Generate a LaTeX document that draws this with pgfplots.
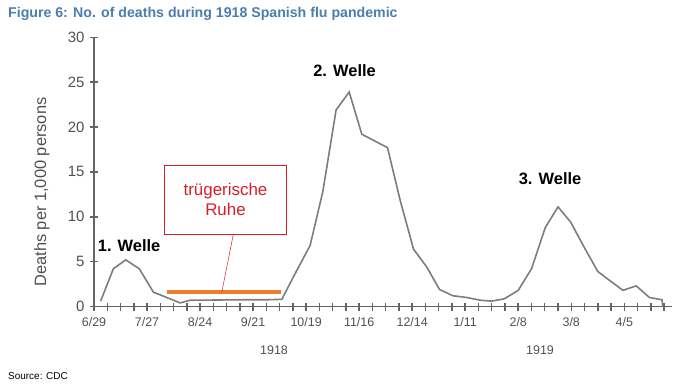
\documentclass[border=0pt]{standalone}
\usepackage{pgfplots}
\pgfplotsset{compat=1.18}
\usepackage{fontspec}
\setmainfont{Liberation Sans}
\definecolor{titleblue}{RGB}{74,126,173}
\definecolor{linegray}{RGB}{125,125,125}
\definecolor{axgray}{RGB}{100,100,100}
\definecolor{labgray}{RGB}{80,80,80}
\definecolor{orng}{RGB}{237,125,49}
\definecolor{rd}{RGB}{218,30,40}
\begin{document}
\begin{tikzpicture}[x=1bp,y=1bp]
\useasboundingbox (0,0) rectangle (685,391);
% title and source
\node[anchor=west,text=titleblue,font=\bfseries\fontsize{14.2}{16}\selectfont,inner sep=0] at (8,377) {Figure 6: No. of deaths during 1918 Spanish flu pandemic};
\node[anchor=west,font=\fontsize{10}{12}\selectfont,inner sep=0] at (8,15) {Source: CDC};
\node[text=labgray,font=\fontsize{12.5}{14}\selectfont,inner sep=0] at (274,41) {1918};
\node[text=labgray,font=\fontsize{12.5}{14}\selectfont,inner sep=0] at (540,41) {1919};
\begin{axis}[
  at={(94bp,84.5bp)}, anchor=south west,
  scale only axis, width=578bp, height=269.2bp,
  xmin=0, xmax=43.6, ymin=0, ymax=30,
  axis lines=left,
  axis line style={draw=axgray, line width=1.2bp, -},
  xtick={0,...,43},
  xticklabels={6/29,,,,7/27,,,,8/24,,,,9/21,,,,10/19,,,,11/16,,,,12/14,,,,1/11,,,,2/8,,,,3/8,,,,4/5,,,,},
  ytick={0,5,...,30},
  tick align=center,
  major tick length=8bp,
  tick style={draw=axgray, line width=1.5bp},
  /pgf/number format/assume math mode=true,
  x tick label style={text=labgray, font=\fontsize{12.5}{14}\selectfont, yshift=-3bp},
  y tick label style={text=labgray, font=\fontsize{15}{17}\selectfont, xshift=-2bp},
  ylabel={Deaths per 1,000 persons},
  ylabel style={text=labgray, font=\fontsize{16.5}{18}\selectfont, at={(axis description cs:-0.09,0.425)}, anchor=center},
  clip=false,
]
\pgfplotsinvokeforeach{0,...,43}{
  \draw[axgray, line width=1.5bp] (axis cs:#1,0) ++(0,-4bp) -- ++(0,8bp);
}
\addplot[color=linegray, line width=1.6bp] coordinates {
(0.5,0.6) (1.46,4.2) (2.39,5.2) (3.42,4.2) (4.48,1.6) (6.5,0.4) (7.25,0.7)
(9,0.72) (11,0.75) (13,0.75) (14.17,0.8) (15.04,3.3) (16.3,6.8) (17.26,12.8)
(18.26,21.9) (19.25,23.9) (20.2,19.2) (22.14,17.7) (23.1,11.8) (24.1,6.4)
(25.1,4.4) (26.06,1.9) (27.07,1.2) (28.13,1.0) (29.13,0.7) (30.0,0.6)
(30.94,0.85) (32.0,1.8) (33.0,4.2) (34.04,8.8) (35.0,11.1) (35.96,9.4)
(36.9,6.8) (38.0,3.9) (38.9,2.9) (39.9,1.8) (40.9,2.3) (41.9,1.0)
(42.85,0.75) (42.9,0)
};
\addplot[color=orng, line width=4.5bp] coordinates {(5.49,1.6) (14.1,1.6)};
\draw[rd, line width=0.5bp] (axis cs:10.51,8.05) -- (axis cs:9.64,1.6);
\draw[rd, line width=0.7bp, fill=white] (axis cs:5.31,8.05) rectangle (axis cs:14.54,15.77);
\node[text=rd, align=center, font=\fontsize{17}{20}\selectfont] at (axis cs:9.92,11.9) {trügerische\\Ruhe};
\node[font=\bfseries\fontsize{16.5}{18}\selectfont] at (axis cs:2.65,6.8) {1. Welle};
\node[font=\bfseries\fontsize{16.5}{18}\selectfont] at (axis cs:18.9,26.3) {2. Welle};
\node[font=\bfseries\fontsize{16.5}{18}\selectfont] at (axis cs:34.4,14.2) {3. Welle};
\end{axis}
\end{tikzpicture}
\end{document}
